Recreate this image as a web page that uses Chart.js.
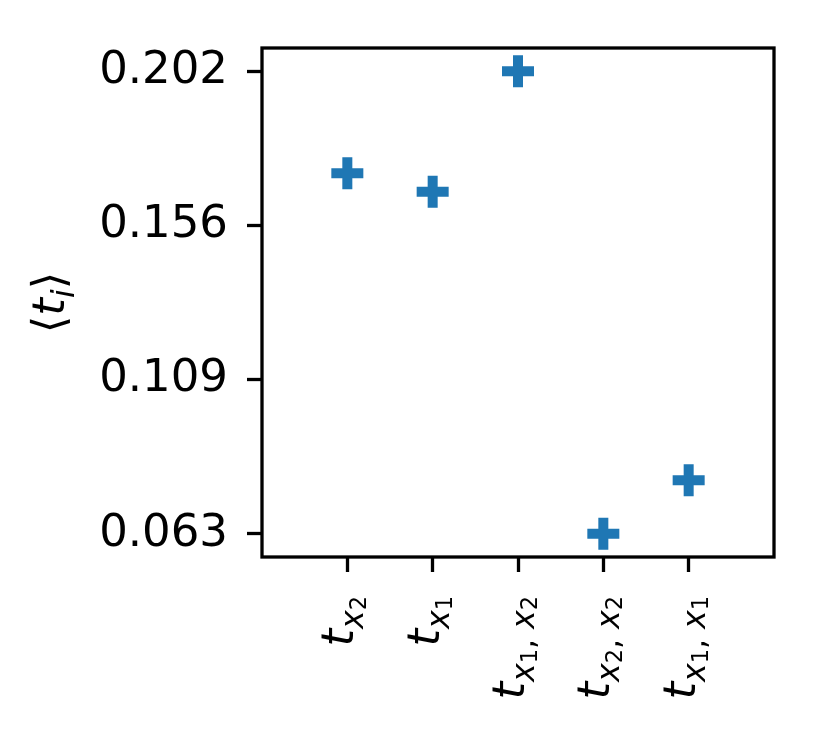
<!DOCTYPE html>
<html>
<head>
<meta charset="utf-8">
<script src="https://cdn.jsdelivr.net/npm/chart.js@4.4.1/dist/chart.umd.min.js"></script>
<style>
  html, body { margin: 0; padding: 0; background: #fff; }
  #wrap { width: 823px; height: 729px; }
</style>
</head>
<body>
<div id="wrap"><canvas id="c" width="823" height="729"></canvas></div>
<script>
// values
const categories = ['t_{x_2}', 't_{x_1}', 't_{x_1, x_2}', 't_{x_2, x_2}', 't_{x_1, x_1}'];
const meanT = [0.1713, 0.1658, 0.2020, 0.0630, 0.0791];
const yTicks = [0.063, 0.10933, 0.15567, 0.202];
const yLabel = 't_i';

const FONT = '"DejaVu Sans", sans-serif';
const FS = 45;
const BLUE = '#1f77b4';
const LW = 3.3;

// split "t_{x_1, x_2}" into [text, level] runs
function parseLabel(s) {
  const runs = [[s[0], 0]];
  const inner = s.slice(3, -1);
  for (let i = 0; i < inner.length; i++) {
    const ch = inner[i];
    if (ch === '_') { runs.push([inner[i + 1], 2]); i++; }
    else runs.push([ch, 1]);
  }
  return runs;
}

const sizes = [FS, FS * 0.7, FS * 0.5];
const drops = [0, 10, 13];

function runFont(txt, lvl) {
  const ital = /[a-z]/.test(txt) ? 'italic ' : '';
  return ital + sizes[lvl].toFixed(1) + 'px ' + FONT;
}

function runsWidth(ctx, runs) {
  let w = 0;
  runs.forEach(([t, l]) => {
    ctx.font = runFont(t, l);
    w += ctx.measureText(t).width;
  });
  return w;
}

function drawRuns(ctx, runs, x0) {
  let x = x0;
  runs.forEach(([t, l]) => {
    ctx.font = runFont(t, l);
    ctx.fillText(t, x, drops[l]);
    x += ctx.measureText(t).width;
  });
}

const decor = {
  id: 'decor',
  afterDraw(chart) {
    const ctx = chart.ctx;
    const a = chart.chartArea;
    const xs = chart.scales.x;
    ctx.save();
    // frame
    ctx.strokeStyle = '#000';
    ctx.lineWidth = LW;
    ctx.strokeRect(a.left, a.top, a.right - a.left, a.bottom - a.top);

    ctx.fillStyle = '#000';
    ctx.textAlign = 'left';
    ctx.textBaseline = 'alphabetic';
    // rotated x labels, end of text near the axis
    categories.forEach((lab, i) => {
      const runs = parseLabel(lab);
      const px = xs.getPixelForValue(i);
      ctx.save();
      ctx.translate(px + 6, 596);
      ctx.rotate(-Math.PI / 2);
      const w = runsWidth(ctx, runs);
      drawRuns(ctx, runs, -w);
      ctx.restore();
    });

    // y axis title  <t_i>
    const cy = (a.top + a.bottom) / 2;
    const yr = [['\u27E8', 0], [yLabel[0], 0], [yLabel[2], 1], ['\u27E9', 0]];
    ctx.save();
    ctx.translate(64, cy);
    ctx.rotate(-Math.PI / 2);
    const w = runsWidth(ctx, yr);
    drawRuns(ctx, yr, -w / 2);
    ctx.restore();
    ctx.restore();
  }
};

new Chart(document.getElementById('c'), {
  type: 'scatter',
  data: {
    datasets: [{
      data: meanT.map((v, i) => ({ x: i, y: v })),
      pointStyle: 'cross',
      radius: 16,
      hoverRadius: 16,
      borderWidth: 10,
      hoverBorderWidth: 10,
      borderColor: BLUE,
      backgroundColor: BLUE,
      clip: false
    }]
  },
  options: {
    responsive: false,
    animation: false,
    events: [],
    layout: { padding: { top: 48, right: 49, left: 0, bottom: 0 } },
    plugins: { legend: { display: false }, tooltip: { enabled: false } },
    scales: {
      x: {
        type: 'linear',
        min: -1,
        max: 5,
        afterBuildTicks: s => { s.ticks = categories.map((c, i) => ({ value: i })); },
        afterFit: s => { s.height = 172; },
        ticks: { autoSkip: false, callback: () => '' },
        border: { display: false },
        grid: { drawOnChartArea: false, drawTicks: true, tickLength: 15, tickWidth: LW, tickColor: '#000' }
      },
      y: {
        min: 0.05605,
        max: 0.20895,
        afterBuildTicks: s => { s.ticks = yTicks.map(v => ({ value: v })); },
        afterFit: s => { s.width = 262; },
        ticks: {
          autoSkip: false,
          padding: 19,
          color: '#000',
          font: { family: FONT, size: FS },
          callback: v => v.toFixed(3)
        },
        border: { display: false },
        grid: { drawOnChartArea: false, drawTicks: true, tickLength: 15, tickWidth: LW, tickColor: '#000' }
      }
    }
  },
  plugins: [decor]
});
</script>
</body>
</html>
